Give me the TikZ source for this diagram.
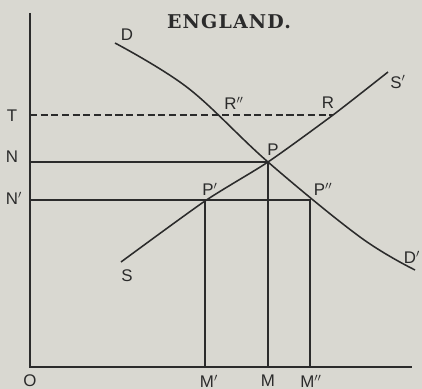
\documentclass[tikz,border=0pt]{standalone}
\usepackage{fontspec}
\setsansfont{Liberation Sans}
\newfontfamily\titlefont[LetterSpace=6]{DejaVu Serif}
\usepackage{tikz}
\definecolor{paper}{HTML}{D9D8D1}
\definecolor{ink}{HTML}{2B2B2B}

\begin{document}
\begin{tikzpicture}[x=0.025cm,y=0.025cm,
  curve/.style={ink,line width=1.1pt},
  guide/.style={ink,line width=1pt},
  lab/.style={text=ink,font=\sffamily\fontsize{12}{14}\selectfont,inner sep=0pt}]
  \fill[paper] (-30,-22) rectangle (392,367);
  \useasboundingbox (-30,-22) rectangle (392,367);
  % points on the curves
  \coordinate (O) at (0,0);
  \coordinate (Ytop) at (0,354);
  \coordinate (Xend) at (382,0);
  \coordinate (Dtop) at (85,324);
  \coordinate (Dend) at (385,97);
  \coordinate (Sbot) at (91,105);
  \coordinate (Send) at (358,295);
  \coordinate (P) at (238,205);
  \coordinate (P1) at (175,166);
  \coordinate (P2) at (280,167);
  \coordinate (R) at (303,252);
  \coordinate (R2) at (190,252);
  \coordinate (Tax) at (0,252);
  \coordinate (Nax) at (0,205);
  \coordinate (N1ax) at (0,167);
  \coordinate (M) at (238,0);
  \coordinate (M1) at (175,0);
  \coordinate (M2) at (280,0);
  % axes
  \draw[guide] (Ytop) -- (O) -- (Xend);
  % demand and supply
  \draw[curve] plot[smooth,tension=0.6] coordinates {(Dtop) (158,279) (P) (330,130) (Dend)};
  \draw[curve] plot[smooth,tension=0.4] coordinates {(Sbot) (P1) (P) (R) (Send)};
  % guides
  \draw[guide,dash pattern=on 5pt off 2.6pt] (Tax) -- (R);
  \draw[guide] (Nax) -- (P) -- (M);
  \draw[guide] (N1ax) -- (P2) -- (M2);
  \draw[guide] (P1) -- (M1);
  % labels
  \node[text=ink,font=\titlefont\bfseries\fontsize{13.5}{15}\selectfont] (title) at (199,345) {ENGLAND.};
  \node[lab] (lD) at (97,332) {D};
  \node[lab] (lD2) at (382,110) {D$'$};
  \node[lab] (lS) at (97,91) {S};
  \node[lab] (lS2) at (368,285) {S$'$};
  \node[lab] (lR2) at (204,264) {R$''$};
  \node[lab] (lR) at (298,264) {R};
  \node[lab] (lP) at (243,217) {P};
  \node[lab] (lP1) at (180,178) {P$'$};
  \node[lab] (lP2) at (293,178) {P$''$};
  \node[lab] (lT) at (-18,251) {T};
  \node[lab] (lN) at (-18,210) {N};
  \node[lab] (lN1) at (-16,169) {N$'$};
  \node[lab] (lO) at (0,-14) {O};
  \node[lab] (lM1) at (179,-14) {M$'$};
  \node[lab] (lM) at (238,-14) {M};
  \node[lab] (lM2) at (281,-14) {M$''$};
\end{tikzpicture}
\end{document}
